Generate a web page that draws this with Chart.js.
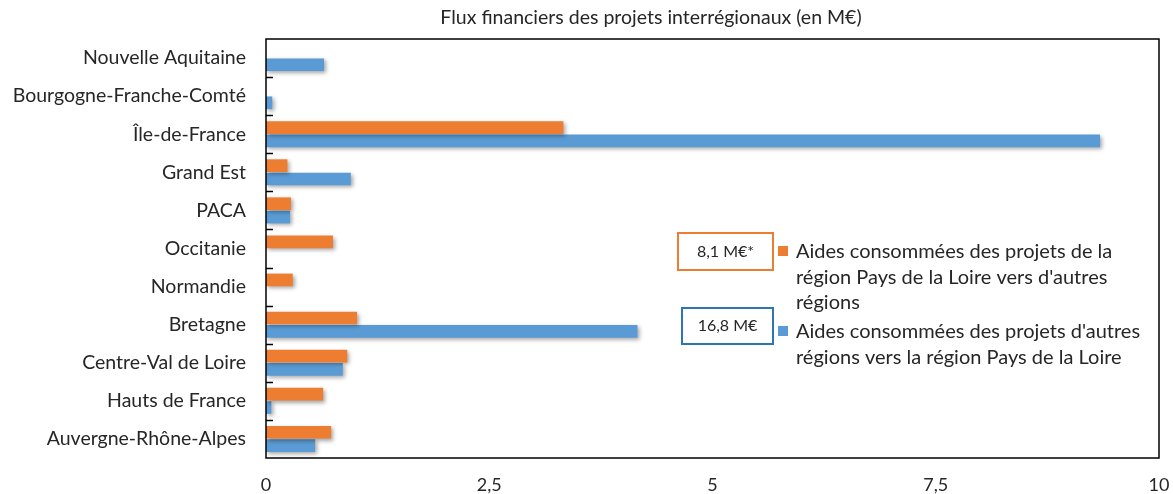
<!DOCTYPE html>
<html lang="fr">
<head>
<meta charset="utf-8">
<title>Flux financiers des projets interrégionaux</title>
<script src="https://cdn.jsdelivr.net/npm/chart.js@4.4.1/dist/chart.umd.min.js"></script>
<style>
  html, body { margin: 0; padding: 0; background: #fff; }
  #cadre { width: 1173px; height: 494px; }
</style>
</head>
<body>
<div id="cadre"><canvas id="graphique"></canvas></div>
<script>
// ---------- DONNEES ----------
const titre = 'Flux financiers des projets interrégionaux (en M€)';
const regions = ['Nouvelle Aquitaine', 'Bourgogne-Franche-Comté', 'Île-de-France', 'Grand Est', 'PACA',
  'Occitanie', 'Normandie', 'Bretagne', 'Centre-Val de Loire', 'Hauts de France', 'Auvergne-Rhône-Alpes'];

// Pays de la Loire -> autres régions (orange)
const versAutres = [0, 0, 3.33, 0.24, 0.28, 0.75, 0.30, 1.02, 0.91, 0.64, 0.73];
// autres régions -> Pays de la Loire (bleu)
const versPdl = [0.65, 0.07, 9.34, 0.95, 0.27, 0, 0, 4.16, 0.86, 0.06, 0.55];

const libelleOrange = ['Aides consommées des projets de la', 'région Pays de la Loire vers d\'autres', 'régions'];
const libelleBleu = ['Aides consommées des projets d\'autres', 'régions vers la région Pays de la Loire'];
const totaux = ['8,1 M€*', '16,8 M€'];

const graduations = [0, 2.5, 5, 7.5, 10];

const orange = '#ED7D31';
const bleu = '#5B9BD5';
const police = 'Lato, "Liberation Sans", sans-serif';
const texte = '#262626';

// ---------- DECOR (titre, ombre, cadre, petites graduations, légende) ----------
const decor = {
  id: 'decor',
  beforeDatasetsDraw(chart) {
    const ctx = chart.ctx;
    ctx.save();
    ctx.shadowColor = 'rgba(0,0,0,0.35)';
    ctx.shadowBlur = 4;
    ctx.shadowOffsetX = 2;
    ctx.shadowOffsetY = 2;
  },
  afterDatasetsDraw(chart) {
    chart.ctx.restore();
  },
  afterDraw(chart) {
    const ctx = chart.ctx;
    const a = chart.chartArea;
    const y = chart.scales.y;

    ctx.save();
    // titre (décalé vers la droite comme dans Excel)
    ctx.fillStyle = texte;
    ctx.font = '19.5px ' + police;
    ctx.textAlign = 'center';
    ctx.textBaseline = 'middle';
    ctx.fillText(titre, 651, 18);

    ctx.strokeStyle = '#000';
    ctx.lineWidth = 1.5;
    ctx.strokeRect(a.left, a.top, a.right - a.left, a.bottom - a.top);

    // petites graduations vers l'intérieur entre les catégories
    ctx.beginPath();
    for (let i = 1; i < regions.length; i++) {
      const py = Math.round((y.getPixelForValue(i - 1) + y.getPixelForValue(i)) / 2) + 0.5;
      ctx.moveTo(a.left, py);
      ctx.lineTo(a.left + 7, py);
    }
    ctx.stroke();

    // légende
    const items = [
      { couleur: orange, cadre: orange, lignes: libelleOrange, total: totaux[0], boite: [678, 233, 95, 37], carre: 246 },
      { couleur: bleu, cadre: '#2E75B6', lignes: libelleBleu, total: totaux[1], boite: [682, 308, 91, 36], carre: 326 }
    ];
    items.forEach(it => {
      const [bx, by, bw, bh] = it.boite;
      ctx.strokeStyle = it.cadre;
      ctx.lineWidth = 2;
      ctx.strokeRect(bx, by, bw, bh);
      ctx.fillStyle = texte;
      ctx.font = '16px ' + police;
      ctx.textAlign = 'center';
      ctx.textBaseline = 'middle';
      ctx.fillText(it.total, bx + bw / 2, by + bh / 2);

      ctx.fillStyle = it.couleur;
      ctx.fillRect(778, it.carre, 10, 10);

      ctx.fillStyle = texte;
      ctx.font = '20px ' + police;
      ctx.textAlign = 'left';
      ctx.textBaseline = 'alphabetic';
      it.lignes.forEach((l, k) => ctx.fillText(l, 796, it.carre + 12 + k * 25.5));
    });
    ctx.restore();
  }
};

// ---------- GRAPHIQUE ----------
new Chart(document.getElementById('graphique'), {
  type: 'bar',
  data: {
    labels: regions,
    datasets: [
      { label: libelleOrange.join(' '), data: versAutres, backgroundColor: orange },
      { label: libelleBleu.join(' '), data: versPdl, backgroundColor: bleu }
    ]
  },
  options: {
    indexAxis: 'y',
    responsive: true,
    maintainAspectRatio: false,
    animation: false,
    layout: { padding: { left: 12, right: 14, top: 39, bottom: 0 } },
    datasets: { bar: { categoryPercentage: 0.7, barPercentage: 0.95 } },
    scales: {
      x: {
        min: 0,
        max: 10,
        afterBuildTicks: s => { s.ticks = graduations.map(v => ({ value: v })); },
        afterFit: s => { s.height = 36; s.paddingLeft = 0; s.paddingRight = 0; },
        grid: { display: false, drawTicks: false },
        border: { display: false },
        ticks: {
          padding: 16,
          color: texte,
          font: { family: police, size: 18 },
          callback: v => String(v).replace('.', ',')
        }
      },
      y: {
        afterFit: s => { s.width = 254; s.paddingTop = 0; s.paddingBottom = 0; },
        grid: { display: false, drawTicks: false },
        border: { display: false },
        ticks: {
          padding: 20,
          color: texte,
          font: { family: police, size: 19.5 }
        }
      }
    },
    plugins: {
      legend: { display: false },
      tooltip: { enabled: false },
      title: { display: false }
    }
  },
  plugins: [decor]
});
</script>
</body>
</html>
